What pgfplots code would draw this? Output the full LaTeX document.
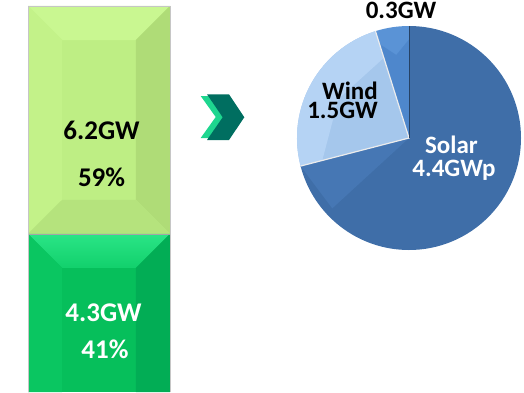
\documentclass[border=0pt]{standalone}
\usepackage{fontspec}
\setmainfont{Carlito}
\usepackage{pgfplots}
\pgfplotsset{compat=1.18}
\definecolor{lgC}{HTML}{BEEE84}
\definecolor{lgT}{HTML}{C9F791}
\definecolor{lgL}{HTML}{C3F289}
\definecolor{lgR}{HTML}{AFDC77}
\definecolor{lgB}{HTML}{B5E37D}
\definecolor{dgC}{HTML}{06BF5B}
\definecolor{dgT}{HTML}{2AE586}
\definecolor{dgT2}{HTML}{12D06C}
\definecolor{dgL}{HTML}{0AC661}
\definecolor{dgR}{HTML}{02AD55}
\definecolor{chevL}{HTML}{1ED68F}
\definecolor{chevD}{HTML}{006E60}
\definecolor{solarC}{HTML}{3F6EA8}
\definecolor{solarH}{HTML}{4677B4}
\definecolor{windC}{HTML}{A5C7EC}
\definecolor{windH}{HTML}{B5D3F4}
\definecolor{otherC}{HTML}{5A93D6}
\definecolor{otherD}{HTML}{4E87CC}
\def\vlow{4.3}
\def\vhigh{6.2}
\def\vsolar{4.4}
\def\vwind{1.5}
\def\vother{0.3}
\def\ytop{10.5}
\def\bx{0.24}
\def\by{0.925}
\newcommand{\lbl}{\bfseries\fontsize{25}{30}\selectfont}
\newcommand{\blbl}{\bfseries\fontsize{27}{32}\selectfont}
\pgfplotsset{barbox/.style={at={(28pt,0pt)}, anchor=south west, width=142pt, height=386pt,
  scale only axis, xmin=-0.5, xmax=0.5, ymin=0, ymax=10.5, hide axis, clip=false}}
\begin{document}
\begin{tikzpicture}[x=1pt,y=1pt]
\useasboundingbox (0,0) rectangle (524,392);
% chevron
\fill[chevL] (200.7,296) -- (222,296) -- (237,275) -- (222,254) -- (200.7,254) -- (215.7,275) -- cycle;
\fill[chevD] (207,297.7) -- (229,297.7) -- (244.3,274.7) -- (229,252) -- (207,252) -- (222.7,274.7) -- cycle;
% stacked bar
\begin{axis}[barbox, ybar stacked, bar width=142pt]
\addplot[fill=dgC, draw=none] coordinates {(0,\vlow)};
\addplot[fill=lgC, draw=none] coordinates {(0,\vhigh)};
\end{axis}
% bevel overlay and labels
\begin{axis}[barbox]
% top segment bevel
\fill[lgT] (axis cs:-0.5,\ytop) -- (axis cs:0.5,\ytop) -- (axis cs:{0.5-\bx},{\ytop-\by}) -- (axis cs:{-0.5+\bx},{\ytop-\by}) -- cycle;
\fill[lgL] (axis cs:-0.5,\ytop) -- (axis cs:{-0.5+\bx},{\ytop-\by}) -- (axis cs:{-0.5+\bx},{\vlow+\by}) -- (axis cs:-0.5,\vlow) -- cycle;
\fill[lgR] (axis cs:0.5,\ytop) -- (axis cs:{0.5-\bx},{\ytop-\by}) -- (axis cs:{0.5-\bx},{\vlow+\by}) -- (axis cs:0.5,\vlow) -- cycle;
\fill[lgB] (axis cs:-0.5,\vlow) -- (axis cs:0.5,\vlow) -- (axis cs:{0.5-\bx},{\vlow+\by}) -- (axis cs:{-0.5+\bx},{\vlow+\by}) -- cycle;
% bottom segment bevel
\shade[top color=dgT, bottom color=dgT2] (axis cs:-0.5,\vlow) -- (axis cs:0.5,\vlow) -- (axis cs:{0.5-\bx},{\vlow-\by}) -- (axis cs:{-0.5+\bx},{\vlow-\by}) -- cycle;
\fill[dgL] (axis cs:-0.5,\vlow) -- (axis cs:{-0.5+\bx},{\vlow-\by}) -- (axis cs:{-0.5+\bx},0) -- (axis cs:-0.5,0) -- cycle;
\fill[dgR] (axis cs:0.5,\vlow) -- (axis cs:{0.5-\bx},{\vlow-\by}) -- (axis cs:{0.5-\bx},0) -- (axis cs:0.5,0) -- cycle;
\draw[gray!70, line width=0.6pt] (axis cs:-0.5,\vlow) -- (axis cs:0.5,\vlow);
\draw[gray!45, line width=0.5pt] (axis cs:-0.5,0) -- (axis cs:-0.5,\ytop) -- (axis cs:0.5,\ytop) -- (axis cs:0.5,0);
% labels
\node[font=\blbl, anchor=base, inner sep=0pt, text=black] at (axis cs:0.018,6.88) {\vhigh GW};
\node[font=\blbl, anchor=base, inner sep=0pt, text=black] at (axis cs:0.018,5.58) {59\%};
\node[font=\blbl, anchor=base, inner sep=0pt, text=white] at (axis cs:0.032,1.91) {\vlow GW};
\node[font=\blbl, anchor=base, inner sep=0pt, text=white] at (axis cs:0.042,0.917) {41\%};
\end{axis}
% pie
\begin{axis}[at={(297pt,142pt)}, anchor=south west, width=224pt, height=224pt,
  scale only axis, xmin=-1, xmax=1, ymin=-1, ymax=1, hide axis, clip=false]
\pgfmathsetmacro{\tot}{\vsolar+\vwind+\vother}
\pgfmathsetmacro{\aA}{90-360*\vsolar/\tot}
\pgfmathsetmacro{\aB}{\aA-360*\vwind/\tot}
\pgfmathsetmacro{\aC}{\aB-360*\vother/\tot}
\fill[solarC] (axis cs:0,0) -- (axis cs:{cos(90)},{sin(90)}) arc[start angle=90, end angle=\aA, radius=112pt] -- cycle;
\fill[solarH] (axis cs:0,0) -- (axis cs:{cos(\aA)},{sin(\aA)}) -- (axis cs:{0.93*cos(\aA+28)},{0.93*sin(\aA+28)}) -- cycle;
\fill[windC] (axis cs:0,0) -- (axis cs:{cos(\aA)},{sin(\aA)}) arc[start angle=\aA, end angle=\aB, radius=112pt] -- cycle;
\fill[windH] (axis cs:{cos(\aA)},{sin(\aA)}) arc[start angle=\aA, end angle=\aB, radius=112pt] -- (axis cs:{0.75*cos(\aB)},{0.75*sin(\aB)}) -- (axis cs:{0.72*cos((\aA+\aB)/2)},{0.72*sin((\aA+\aB)/2)}) -- (axis cs:{0.8*cos(\aA)},{0.8*sin(\aA)}) -- cycle;
\fill[otherC] (axis cs:0,0) -- (axis cs:{cos(\aB)},{sin(\aB)}) arc[start angle=\aB, end angle=\aC, radius=112pt] -- cycle;
\fill[otherD] (axis cs:0,0) -- (axis cs:{0.88*cos(\aB)},{0.88*sin(\aB)}) -- (axis cs:{0.75*cos((\aB+\aC)/2)},{0.75*sin((\aB+\aC)/2)}) -- (axis cs:{0.88*cos(\aC)},{0.88*sin(\aC)}) -- cycle;
\draw[white!85!gray, line width=1.2pt] (axis cs:{cos(\aA)},{sin(\aA)}) -- (axis cs:0,0) -- (axis cs:{cos(\aB)},{sin(\aB)});
\draw[solarC!60!black, line width=0.6pt] (axis cs:0,0) -- (axis cs:0,1);
\node[font=\lbl, anchor=base, inner sep=0pt, text=black] at (axis cs:-0.071,1.069) {\vother GW};
\node[font=\bfseries\fontsize{25}{19.5}\selectfont, align=right, anchor=base east, inner sep=0pt, text=black] at (axis cs:-0.277,0.174) {Wind\\\vwind GW};
\node[font=\lbl, anchor=base, inner sep=0pt, text=white] at (axis cs:0.379,-0.137) {Solar};
\node[font=\lbl, anchor=base, inner sep=0pt, text=white] at (axis cs:0.402,-0.345) {\vsolar GWp};
\end{axis}
\end{tikzpicture}
\end{document}
